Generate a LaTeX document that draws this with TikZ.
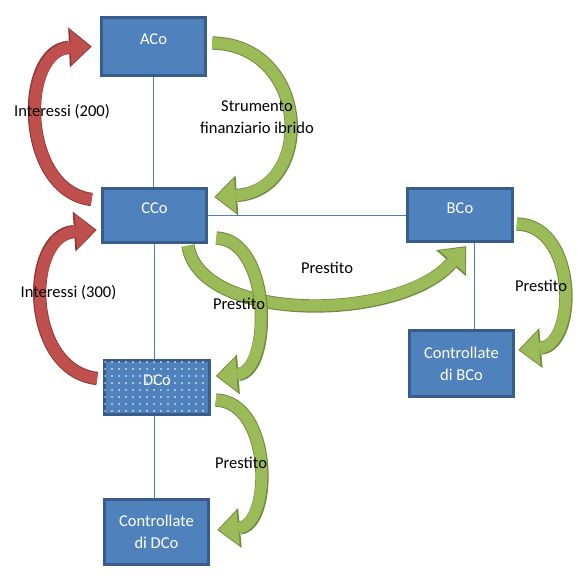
\documentclass[tikz,border=0pt]{standalone}
\usepackage{fontspec}
\setmainfont{Carlito}
\usepackage{xcolor}
\usepackage{tikz}
\usetikzlibrary{arrows.meta,calc,patterns.meta}
\definecolor{boxfill}{HTML}{4F81BD}
\definecolor{boxline}{HTML}{385D8A}
\definecolor{linkcol}{HTML}{4A7EBB}
\definecolor{grfill}{HTML}{9BBB59}
\definecolor{grline}{HTML}{71893F}
\definecolor{rdfill}{HTML}{C0504D}
\definecolor{rdline}{HTML}{8C3836}
\tikzset{
    entity/.style={draw=boxline, fill=boxfill, line width=2.25pt, text=white, minimum width=78.5pt, minimum height=40pt, inner sep=0pt, align=center},
    oneline/.style={text height=8pt, text depth=11pt},
    twolines/.style={minimum height=49pt},
    link/.style={draw=linkcol, line width=0.75pt},
    bigarrow/.style={draw=#1fill, line width=8.5pt, shorten >=1.2pt, -{Triangle[length=14.5pt,width=26pt,line width=0pt]},
        preaction={draw=#1line, line width=10pt, shorten >=0pt, -{Triangle[length=17pt,width=30pt,line width=0pt]}}},
    tag/.style={align=center}
}

\begin{document}
\begin{tikzpicture}[x=0.75pt, y=-0.75pt, font=\fontsize{12.4}{16.5}\selectfont]
    \useasboundingbox (0,0) rectangle (578,586);

    % Companies
    \node[entity, oneline, minimum height=43.5pt] (aco) at (153.5,46.5) {ACo};
    \node[entity, oneline] (cco) at (154.5,215.5) {CCo};
    \node[entity, oneline] (bco) at (460,215) {BCo};
    \node[entity, oneline, postaction={pattern={Dots[distance=5.25pt,radius=0.6pt]}, pattern color=white}] (dco) at (157,387.5) {DCo};
    \node[entity, twolines] (cdco) at (156.5,532) {Controllate\\di DCo};
    \node[entity, twolines] (cbco) at (461.5,363.5) {Controllate\\di BCo};

    % Group links
    \draw[link] (aco.south) -- (aco.south |- cco.north);
    \draw[link] (cco.south) -- (cco.south |- dco.north);
    \draw[link] (cco.south |- dco.south) -- (cco.south |- cdco.north);
    \draw[link] (cco.east) -- (cco.east -| bco.west);
    \coordinate (bdrop) at ($(bco.south)+(14,0)$);
    \draw[link] (bdrop) -- (bdrop |- cbco.north);

    % Interest flows
    \draw[bigarrow=rd] ($(cco.west)+(-9,-16)$) .. controls +(-72,-9) and +(-72,3) .. ($(aco.west)+(-8,0)$);
    \draw[bigarrow=rd] ($(dco.west)+(-6,-9)$) .. controls +(-72,-8) and +(-72,5) .. ($(cco.west)+(-4,14.5)$);

    % Financing flows
    \draw[bigarrow=gr] ($(aco.east)+(5,-3.5)$) .. controls +(98,2) and +(101,-7) .. ($(cco.east)+(6,-18.5)$);
    \draw[bigarrow=gr] ($(cco.south)+(33.5,2)$) .. controls +(12,78) and +(-66,76) .. ($(bco.south)+(6,3)$);
    \draw[bigarrow=gr] ($(cco.east)+(8,22.5)$) .. controls +(56,2) and +(56,-4) .. ($(dco.east)+(5,-11.5)$);
    \draw[bigarrow=gr] ($(bco.east)+(3,9)$) .. controls +(61,1) and +(59,-5) .. ($(cbco.east)+(3,-13.5)$);
    \draw[bigarrow=gr] ($(dco.east)+(5,12.5)$) .. controls +(57,2) and +(55,-5) .. ($(cdco.east)+(7,-2)$);

    % Labels
    \node (int200) at (62,112) {Interessi (200)};
    \node[tag] (strum) at (257,117) {Strumento\\finanziario ibrido};
    \node (int300) at (68.5,293) {Interessi (300)};
    \node (prcd) at (239,304) {Prestito};
    \node (prcb) at (327,268) {Prestito};
    \node (prbc) at (541,286) {Prestito};
    \node (prdc) at (241,463) {Prestito};
\end{tikzpicture}
\end{document}
